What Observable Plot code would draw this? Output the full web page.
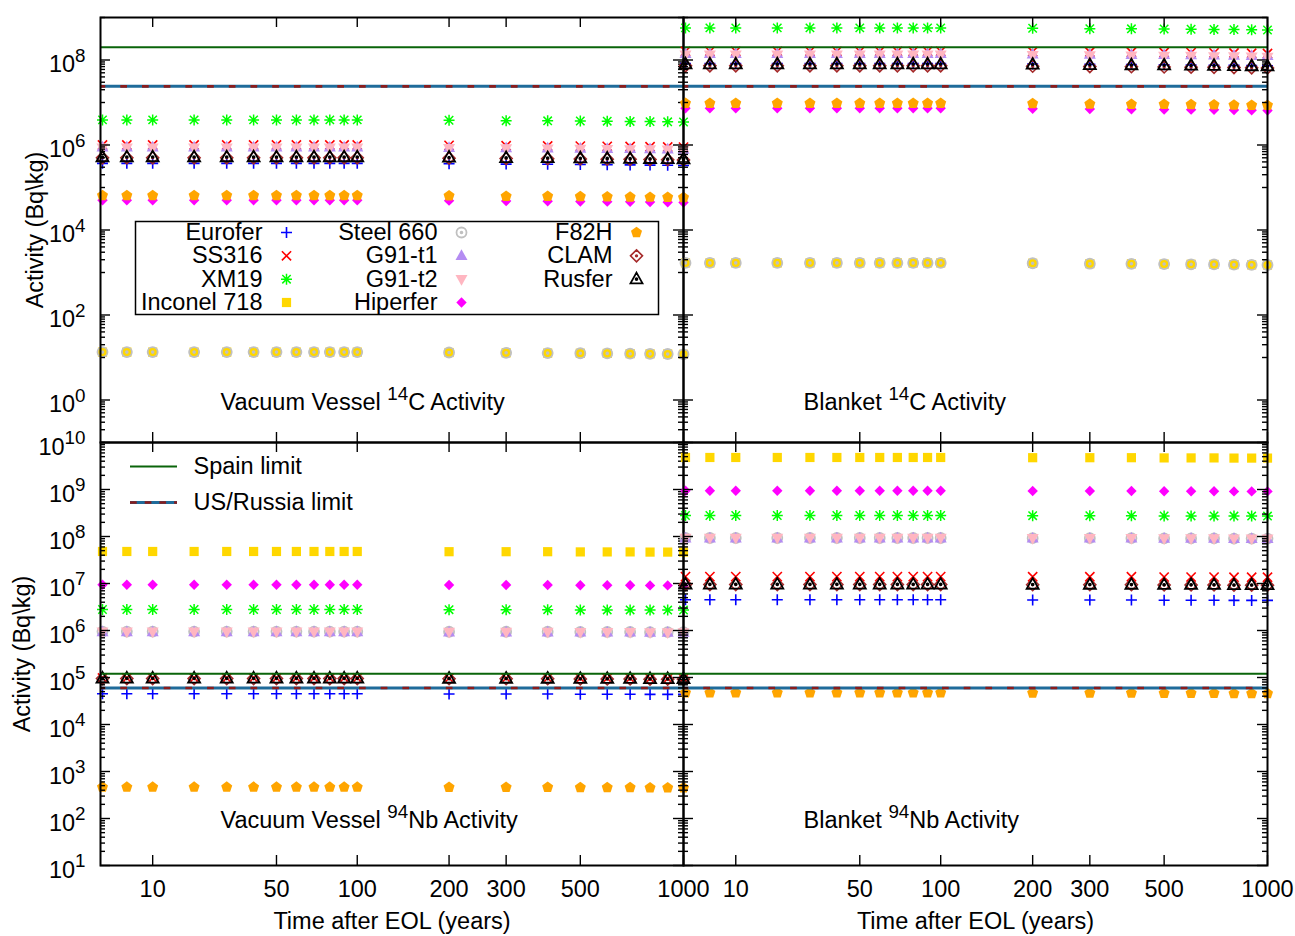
<!DOCTYPE html>
<html><head><meta charset="utf-8">
<script src="https://cdn.jsdelivr.net/npm/d3@7"></script>
<script src="https://cdn.jsdelivr.net/npm/@observablehq/plot@0.6"></script>
<style>
html,body{margin:0;padding:0;background:#fff;}
#chart{position:relative;width:1295px;height:936px;overflow:hidden;background:#fff;}
#chart svg{position:absolute;left:0;top:0;}
</style></head><body><div id="chart"></div>
<script>
// ---------------- data ----------------
const times = [1,5,10,20,30,40,50,60,70,80,90,100,200,300,400,500,600,700,800,900,1000];
const materials = ["Eurofer","SS316","XM19","Inconel 718","Steel 660","G91-t1","G91-t2","Hiperfer","F82H","CLAM","Rusfer"];
const materialColors = ["#0000ff","#ff0000","#00ff00","#ffd700","#c0c0c0","#b48cf2","#ffb6c1","#ff00ff","#ffa500","#a52a2a","#000000"];
const xTicks = [10,50,100,200,300,500,1000];
const yTicksC14 = [1,1e2,1e4,1e6,1e8];
const yTicksNb94 = [1e1,1e2,1e3,1e4,1e5,1e6,1e7,1e8,1e9,1e10];
const limitNames = ["Spain limit","US/Russia limit"];
const limitsC14 = [2.0e8, 2.4e7];
const limitsNb94 = [1.2e5, 6.0e4];
const panelTitles = ["Vacuum Vessel ^14C Activity","Blanket ^14C Activity","Vacuum Vessel ^94Nb Activity","Blanket ^94Nb Activity"];

// rows follow the order of `materials`, columns follow `times`
const vesselC14 = [
  [3.7e5,3.7e5,3.7e5,3.7e5,3.7e5,3.7e5,3.7e5,3.7e5,3.7e5,3.7e5,3.7e5,3.7e5,3.63e5,3.55e5,3.52e5,3.48e5,3.44e5,3.40e5,3.37e5,3.33e5,3.29e5],
  [1.0e6,1.0e6,1.0e6,1.0e6,1.0e6,1.0e6,1.0e6,1.0e6,1.0e6,1.0e6,1.0e6,1.0e6,9.8e5,9.6e5,9.5e5,9.4e5,9.3e5,9.2e5,9.1e5,9.0e5,8.9e5],
  [3.9e6,3.9e6,3.9e6,3.9e6,3.9e6,3.9e6,3.9e6,3.9e6,3.9e6,3.9e6,3.9e6,3.9e6,3.82e6,3.74e6,3.71e6,3.67e6,3.63e6,3.59e6,3.55e6,3.51e6,3.47e6],
  [13.4,13.4,13.4,13.4,13.4,13.4,13.4,13.4,13.4,13.4,13.4,13.4,13.1,12.9,12.7,12.6,12.5,12.3,12.2,12.1,11.9],
  [13.4,13.4,13.4,13.4,13.4,13.4,13.4,13.4,13.4,13.4,13.4,13.4,13.1,12.9,12.7,12.6,12.5,12.3,12.2,12.1,11.9],
  [8.8e5,8.8e5,8.8e5,8.8e5,8.8e5,8.8e5,8.8e5,8.8e5,8.8e5,8.8e5,8.8e5,8.8e5,8.62e5,8.45e5,8.36e5,8.27e5,8.18e5,8.10e5,8.01e5,7.92e5,7.83e5],
  [8.6e5,8.6e5,8.6e5,8.6e5,8.6e5,8.6e5,8.6e5,8.6e5,8.6e5,8.6e5,8.6e5,8.6e5,8.43e5,8.26e5,8.17e5,8.08e5,8.00e5,7.91e5,7.83e5,7.74e5,7.65e5],
  [5.0e4,5.0e4,5.0e4,5.0e4,5.0e4,5.0e4,5.0e4,5.0e4,5.0e4,5.0e4,5.0e4,5.0e4,4.90e4,4.80e4,4.75e4,4.70e4,4.65e4,4.60e4,4.55e4,4.50e4,4.45e4],
  [6.5e4,6.5e4,6.5e4,6.5e4,6.5e4,6.5e4,6.5e4,6.5e4,6.5e4,6.5e4,6.5e4,6.5e4,6.37e4,6.24e4,6.18e4,6.11e4,6.05e4,5.98e4,5.92e4,5.85e4,5.79e4],
  [5.0e5,5.0e5,5.0e5,5.0e5,5.0e5,5.0e5,5.0e5,5.0e5,5.0e5,5.0e5,5.0e5,5.0e5,4.90e5,4.80e5,4.75e5,4.70e5,4.65e5,4.60e5,4.55e5,4.50e5,4.45e5],
  [5.2e5,5.2e5,5.2e5,5.2e5,5.2e5,5.2e5,5.2e5,5.2e5,5.2e5,5.2e5,5.2e5,5.2e5,5.10e5,4.99e5,4.94e5,4.89e5,4.84e5,4.78e5,4.73e5,4.68e5,4.63e5]
];
const blanketC14 = [
  [8.2e7,8.2e7,8.2e7,8.2e7,8.2e7,8.2e7,8.2e7,8.2e7,8.2e7,8.2e7,8.2e7,8.2e7,8.04e7,7.87e7,7.79e7,7.71e7,7.63e7,7.54e7,7.46e7,7.38e7,7.30e7],
  [1.6e8,1.6e8,1.6e8,1.6e8,1.6e8,1.6e8,1.6e8,1.6e8,1.6e8,1.6e8,1.6e8,1.6e8,1.57e8,1.54e8,1.52e8,1.50e8,1.49e8,1.47e8,1.46e8,1.44e8,1.42e8],
  [5.7e8,5.7e8,5.7e8,5.7e8,5.7e8,5.7e8,5.7e8,5.7e8,5.7e8,5.7e8,5.7e8,5.7e8,5.59e8,5.47e8,5.42e8,5.36e8,5.30e8,5.24e8,5.19e8,5.13e8,5.07e8],
  [1680,1680,1680,1680,1680,1680,1680,1680,1680,1680,1680,1680,1650,1610,1600,1580,1560,1550,1530,1510,1500],
  [1680,1680,1680,1680,1680,1680,1680,1680,1680,1680,1680,1680,1650,1610,1600,1580,1560,1550,1530,1510,1500],
  [1.4e8,1.4e8,1.4e8,1.4e8,1.4e8,1.4e8,1.4e8,1.4e8,1.4e8,1.4e8,1.4e8,1.4e8,1.37e8,1.34e8,1.33e8,1.32e8,1.30e8,1.29e8,1.27e8,1.26e8,1.25e8],
  [1.33e8,1.33e8,1.33e8,1.33e8,1.33e8,1.33e8,1.33e8,1.33e8,1.33e8,1.33e8,1.33e8,1.33e8,1.30e8,1.28e8,1.26e8,1.25e8,1.24e8,1.22e8,1.21e8,1.20e8,1.18e8],
  [7.3e6,7.3e6,7.3e6,7.3e6,7.3e6,7.3e6,7.3e6,7.3e6,7.3e6,7.3e6,7.3e6,7.3e6,7.15e6,7.01e6,6.94e6,6.86e6,6.79e6,6.72e6,6.64e6,6.57e6,6.50e6],
  [9.6e6,9.6e6,9.6e6,9.6e6,9.6e6,9.6e6,9.6e6,9.6e6,9.6e6,9.6e6,9.6e6,9.6e6,9.41e6,9.22e6,9.12e6,9.02e6,8.93e6,8.83e6,8.74e6,8.64e6,8.54e6],
  [7.3e7,7.3e7,7.3e7,7.3e7,7.3e7,7.3e7,7.3e7,7.3e7,7.3e7,7.3e7,7.3e7,7.3e7,7.15e7,7.01e7,6.94e7,6.86e7,6.79e7,6.72e7,6.64e7,6.57e7,6.50e7],
  [8.0e7,8.0e7,8.0e7,8.0e7,8.0e7,8.0e7,8.0e7,8.0e7,8.0e7,8.0e7,8.0e7,8.0e7,7.84e7,7.68e7,7.60e7,7.52e7,7.44e7,7.36e7,7.28e7,7.20e7,7.12e7]
];
const vesselNb94 = [
  [4.5e4,4.5e4,4.5e4,4.5e4,4.5e4,4.5e4,4.5e4,4.5e4,4.5e4,4.5e4,4.5e4,4.5e4,4.46e4,4.46e4,4.46e4,4.41e4,4.41e4,4.41e4,4.37e4,4.37e4,4.37e4],
  [9.8e4,9.8e4,9.8e4,9.8e4,9.8e4,9.8e4,9.8e4,9.8e4,9.8e4,9.8e4,9.8e4,9.8e4,9.70e4,9.70e4,9.70e4,9.60e4,9.60e4,9.60e4,9.51e4,9.51e4,9.51e4],
  [2.8e6,2.8e6,2.8e6,2.8e6,2.8e6,2.8e6,2.8e6,2.8e6,2.8e6,2.8e6,2.8e6,2.8e6,2.77e6,2.77e6,2.77e6,2.74e6,2.74e6,2.74e6,2.72e6,2.72e6,2.72e6],
  [4.8e7,4.8e7,4.8e7,4.8e7,4.8e7,4.8e7,4.8e7,4.8e7,4.8e7,4.8e7,4.8e7,4.8e7,4.75e7,4.75e7,4.75e7,4.70e7,4.70e7,4.70e7,4.66e7,4.66e7,4.66e7],
  [9.5e5,9.5e5,9.5e5,9.5e5,9.5e5,9.5e5,9.5e5,9.5e5,9.5e5,9.5e5,9.5e5,9.5e5,9.41e5,9.41e5,9.41e5,9.31e5,9.31e5,9.31e5,9.22e5,9.22e5,9.22e5],
  [9.3e5,9.3e5,9.3e5,9.3e5,9.3e5,9.3e5,9.3e5,9.3e5,9.3e5,9.3e5,9.3e5,9.3e5,9.21e5,9.21e5,9.21e5,9.11e5,9.11e5,9.11e5,9.02e5,9.02e5,9.02e5],
  [9.4e5,9.4e5,9.4e5,9.4e5,9.4e5,9.4e5,9.4e5,9.4e5,9.4e5,9.4e5,9.4e5,9.4e5,9.31e5,9.31e5,9.31e5,9.21e5,9.21e5,9.21e5,9.12e5,9.12e5,9.12e5],
  [9.4e6,9.4e6,9.4e6,9.4e6,9.4e6,9.4e6,9.4e6,9.4e6,9.4e6,9.4e6,9.4e6,9.4e6,9.31e6,9.31e6,9.31e6,9.21e6,9.21e6,9.21e6,9.12e6,9.12e6,9.12e6],
  [464,464,464,464,464,464,464,464,464,464,464,464,459,459,459,455,455,455,450,450,450],
  [9.5e4,9.5e4,9.5e4,9.5e4,9.5e4,9.5e4,9.5e4,9.5e4,9.5e4,9.5e4,9.5e4,9.5e4,9.41e4,9.41e4,9.41e4,9.31e4,9.31e4,9.31e4,9.22e4,9.22e4,9.22e4],
  [9.6e4,9.6e4,9.6e4,9.6e4,9.6e4,9.6e4,9.6e4,9.6e4,9.6e4,9.6e4,9.6e4,9.6e4,9.50e4,9.50e4,9.50e4,9.41e4,9.41e4,9.41e4,9.31e4,9.31e4,9.31e4]
];
const blanketNb94 = [
  [4.5e6,4.5e6,4.5e6,4.5e6,4.5e6,4.5e6,4.5e6,4.5e6,4.5e6,4.5e6,4.5e6,4.5e6,4.46e6,4.46e6,4.46e6,4.41e6,4.41e6,4.41e6,4.37e6,4.37e6,4.37e6],
  [1.4e7,1.4e7,1.4e7,1.4e7,1.4e7,1.4e7,1.4e7,1.4e7,1.4e7,1.4e7,1.4e7,1.4e7,1.39e7,1.39e7,1.39e7,1.37e7,1.37e7,1.37e7,1.36e7,1.36e7,1.36e7],
  [2.8e8,2.8e8,2.8e8,2.8e8,2.8e8,2.8e8,2.8e8,2.8e8,2.8e8,2.8e8,2.8e8,2.8e8,2.77e8,2.77e8,2.77e8,2.74e8,2.74e8,2.74e8,2.72e8,2.72e8,2.72e8],
  [4.8e9,4.8e9,4.8e9,4.8e9,4.8e9,4.8e9,4.8e9,4.8e9,4.8e9,4.8e9,4.8e9,4.8e9,4.75e9,4.75e9,4.75e9,4.70e9,4.70e9,4.70e9,4.66e9,4.66e9,4.66e9],
  [9.3e7,9.3e7,9.3e7,9.3e7,9.3e7,9.3e7,9.3e7,9.3e7,9.3e7,9.3e7,9.3e7,9.3e7,9.21e7,9.21e7,9.21e7,9.11e7,9.11e7,9.11e7,9.02e7,9.02e7,9.02e7],
  [9.2e7,9.2e7,9.2e7,9.2e7,9.2e7,9.2e7,9.2e7,9.2e7,9.2e7,9.2e7,9.2e7,9.2e7,9.11e7,9.11e7,9.11e7,9.02e7,9.02e7,9.02e7,8.92e7,8.92e7,8.92e7],
  [9.3e7,9.3e7,9.3e7,9.3e7,9.3e7,9.3e7,9.3e7,9.3e7,9.3e7,9.3e7,9.3e7,9.3e7,9.21e7,9.21e7,9.21e7,9.11e7,9.11e7,9.11e7,9.02e7,9.02e7,9.02e7],
  [9.4e8,9.4e8,9.4e8,9.4e8,9.4e8,9.4e8,9.4e8,9.4e8,9.4e8,9.4e8,9.4e8,9.4e8,9.31e8,9.31e8,9.31e8,9.21e8,9.21e8,9.21e8,9.12e8,9.12e8,9.12e8],
  [4.7e4,4.7e4,4.7e4,4.7e4,4.7e4,4.7e4,4.7e4,4.7e4,4.7e4,4.7e4,4.7e4,4.7e4,4.65e4,4.65e4,4.65e4,4.61e4,4.61e4,4.61e4,4.56e4,4.56e4,4.56e4],
  [9.5e6,9.5e6,9.5e6,9.5e6,9.5e6,9.5e6,9.5e6,9.5e6,9.5e6,9.5e6,9.5e6,9.5e6,9.41e6,9.41e6,9.41e6,9.31e6,9.31e6,9.31e6,9.22e6,9.22e6,9.22e6],
  [9.6e6,9.6e6,9.6e6,9.6e6,9.6e6,9.6e6,9.6e6,9.6e6,9.6e6,9.6e6,9.6e6,9.6e6,9.50e6,9.50e6,9.50e6,9.41e6,9.41e6,9.41e6,9.31e6,9.31e6,9.31e6]
];

// ---------------- styling ----------------
const NS = "http://www.w3.org/2000/svg";
const W = 1295, H = 936;
const FONT = '"Liberation Sans", Arial, sans-serif';
const FS = 23.5;
const COLX = [100, 683, 1267];
const ROWY = [17, 442, 865];
const SPAIN = "#0a640a", US_BLUE = "#1f6b9a", RUS_RED = "#8b1c1c";

function sym(fn) { return {draw(ctx, size) { const s = Math.sqrt(size / Math.PI) / 5; fn(ctx, s); }}; }
const centerDot = (c, s) => { c.moveTo(0.9 * s, 0); c.arc(0, 0, 0.9 * s, 0, 2 * Math.PI); };
const plusPath = (c, a) => { c.moveTo(-a, 0); c.lineTo(a, 0); c.moveTo(0, -a); c.lineTo(0, a); };
const timesPath = (c, a) => { c.moveTo(-a, -a); c.lineTo(a, a); c.moveTo(-a, a); c.lineTo(a, -a); };
const triUpPath = (c, s) => { c.moveTo(0, -6.5 * s); c.lineTo(6 * s, 4.2 * s); c.lineTo(-6 * s, 4.2 * s); c.closePath(); };
const diamondPath = (c, s, k) => { c.moveTo(0, -k * s); c.lineTo(k * s, 0); c.lineTo(0, k * s); c.lineTo(-k * s, 0); c.closePath(); };
const symbols = [
  sym((c, s) => plusPath(c, 5.5 * s)),
  sym((c, s) => timesPath(c, 4.6 * s)),
  sym((c, s) => { plusPath(c, 5.5 * s); timesPath(c, 4.2 * s); }),
  sym((c, s) => { c.rect(-4.6 * s, -4.6 * s, 9.2 * s, 9.2 * s); }),
  sym((c, s) => { c.moveTo(5 * s, 0); c.arc(0, 0, 5 * s, 0, 2 * Math.PI); centerDot(c, s); }),
  sym((c, s) => triUpPath(c, s)),
  sym((c, s) => { c.moveTo(0, 6.5 * s); c.lineTo(6 * s, -4.2 * s); c.lineTo(-6 * s, -4.2 * s); c.closePath(); }),
  sym((c, s) => diamondPath(c, s, 5.2)),
  sym((c, s) => { for (let k = 0; k < 5; k++) { const a = -Math.PI / 2 + k * 2 * Math.PI / 5; const x = 5.8 * s * Math.cos(a), y = 5.8 * s * Math.sin(a); if (k) c.lineTo(x, y); else c.moveTo(x, y); } c.closePath(); }),
  sym((c, s) => { diamondPath(c, s, 6); centerDot(c, s); }),
  sym((c, s) => { triUpPath(c, s); centerDot(c, s); })
];
const filled = [false,false,false,true,false,true,true,true,true,false,false];
const strokeW = [1.6,1.6,1.5,0,1.8,0,0,0,0,1.6,1.8];

function seriesMark(i, data) {
  const f = filled[i];
  return Plot.dot(data, {x: "t", y: "v", r: 5, symbol: symbols[i],
    fill: f ? materialColors[i] : "none", stroke: f ? "none" : materialColors[i], strokeWidth: strokeW[i]});
}

function minorTicks(domain, majors, everyOther) {
  const out = [];
  const lo = Math.floor(Math.log10(domain[0])), hi = Math.ceil(Math.log10(domain[1]));
  for (let e = lo; e <= hi; e++) {
    if (everyOther && (e % 2 === 0)) continue;
    for (let j = everyOther ? 1 : 2; j <= 9; j++) {
      const v = j * Math.pow(10, e);
      if (v >= domain[0] * 0.999 && v <= domain[1] * 1.001 && !majors.includes(v)) out.push(v);
    }
  }
  return out;
}

const baseStyle = {background: "transparent", fontFamily: FONT, fontSize: FS + "px", color: "black", overflow: "visible"};

function panel(opt) {
  const {values, yDomain, yTicks, everyOther, col, row, title, limits, showY, showX, yLabelDx, titleDy} = opt;
  const left = COLX[col], right = COLX[col + 1], top = ROWY[row], bottom = ROWY[row + 1];
  const fw = right - left, fh = bottom - top;
  const minor = minorTicks(yDomain, yTicks, everyOther);
  const marks = [];
  materials.forEach((m, i) => {
    const data = times.map((t, j) => ({t, v: values[i][j]}));
    marks.push(seriesMark(i, data));
  });
  marks.push(Plot.ruleY([limits[0]], {y: d => d, stroke: SPAIN, strokeWidth: 2}));
  marks.push(Plot.ruleY([limits[1]], {y: d => d, stroke: US_BLUE, strokeWidth: 3}));
  marks.push(Plot.ruleY([limits[1]], {y: d => d, stroke: RUS_RED, strokeWidth: 2.6, strokeDasharray: "6.7,15", strokeDashoffset: 1.4}));
  const tickStyle = {stroke: "black", strokeWidth: 1.4};
  marks.push(Plot.tickY(yTicks, {y: d => d, insetRight: fw - 10, ...tickStyle}));
  marks.push(Plot.tickY(yTicks, {y: d => d, insetLeft: fw - 10, ...tickStyle}));
  marks.push(Plot.tickY(minor, {y: d => d, insetRight: fw - 5, ...tickStyle}));
  marks.push(Plot.tickY(minor, {y: d => d, insetLeft: fw - 5, ...tickStyle}));
  marks.push(Plot.tickX(xTicks, {x: d => d, insetTop: fh - 10, ...tickStyle}));
  marks.push(Plot.tickX(xTicks, {x: d => d, insetBottom: fh - 10, ...tickStyle}));
  marks.push(Plot.frame({stroke: "black", strokeWidth: 2}));
  marks.push(Plot.text([title], {frameAnchor: "bottom-left", dx: 120, dy: titleDy, textAnchor: "start", lineAnchor: "middle", text: d => d}));
  if (showY) marks.push(Plot.text(["Activity (Bq\\kg)"], {frameAnchor: "left", rotate: -90, dx: yLabelDx, textAnchor: "middle", lineAnchor: "middle", text: d => d}));
  if (showX) marks.push(Plot.text(["Time after EOL (years)"], {frameAnchor: "bottom", dy: 56, textAnchor: "middle", lineAnchor: "middle", text: d => d}));
  return Plot.plot({
    width: W, height: H,
    marginLeft: left, marginRight: W - right, marginTop: top, marginBottom: H - bottom,
    style: baseStyle,
    x: {type: "symlog", constant: 22.3, domain: [0.7, 1000], ticks: xTicks, tickFormat: d => String(d),
        tickSize: 0, tickPadding: 15, label: null, axis: showX ? "bottom" : null},
    y: {type: "log", domain: yDomain, ticks: yTicks, tickFormat: d => "10^" + Math.round(Math.log10(d)),
        tickSize: 0, tickPadding: 15, label: null, axis: showY ? "left" : null},
    marks
  });
}

const chart = document.getElementById("chart");
const panels = [
  panel({values: vesselC14, yDomain: [0.1, 1e9], yTicks: yTicksC14, everyOther: true, col: 0, row: 0, title: panelTitles[0], limits: limitsC14, showY: true, showX: false, yLabelDx: -65, titleDy: -40}),
  panel({values: blanketC14, yDomain: [0.1, 1e9], yTicks: yTicksC14, everyOther: true, col: 1, row: 0, title: panelTitles[1], limits: limitsC14, showY: false, showX: false, yLabelDx: 0, titleDy: -40}),
  panel({values: vesselNb94, yDomain: [10, 1e10], yTicks: yTicksNb94, everyOther: false, col: 0, row: 1, title: panelTitles[2], limits: limitsNb94, showY: true, showX: true, yLabelDx: -78, titleDy: -45}),
  panel({values: blanketNb94, yDomain: [10, 1e10], yTicks: yTicksNb94, everyOther: false, col: 1, row: 1, title: panelTitles[3], limits: limitsNb94, showY: false, showX: true, yLabelDx: 0, titleDy: -45})
];
panels.forEach(p => chart.appendChild(p));

// material legend (top-left panel)
const legendMarks = [Plot.frame({stroke: "black", strokeWidth: 1.5})];
materials.forEach((m, i) => {
  legendMarks.push(Plot.dot([i], {x: d => Math.floor(d / 4), y: d => d % 4, r: 5, symbol: symbols[i],
    fill: filled[i] ? materialColors[i] : "none", stroke: filled[i] ? "none" : materialColors[i], strokeWidth: strokeW[i]}));
});
legendMarks.push(Plot.text(materials, {x: (d, i) => Math.floor(i / 4), y: (d, i) => i % 4, text: d => d, textAnchor: "end", lineAnchor: "middle", dx: -24}));
chart.appendChild(Plot.plot({
  width: W, height: H, marginLeft: 135, marginRight: W - 658, marginTop: 221, marginBottom: H - 314,
  style: baseStyle,
  x: {domain: [0, 2], range: [286, 636], axis: null},
  y: {domain: [0, 3], range: [232, 302], axis: null},
  marks: legendMarks
}));

// limit legend (bottom-left panel)
chart.appendChild(Plot.plot({
  width: W, height: H, marginLeft: 130, marginRight: W - 177, marginTop: 466, marginBottom: H - 502,
  style: baseStyle,
  x: {domain: [0, 1], range: [130, 177], axis: null},
  y: {domain: [0, 1], range: [466, 502], axis: null},
  marks: [
    Plot.ruleY([0], {y: d => d, x1: 0, x2: 1, stroke: SPAIN, strokeWidth: 2}),
    Plot.ruleY([1], {y: d => d, x1: 0, x2: 1, stroke: US_BLUE, strokeWidth: 3}),
    Plot.ruleY([1], {y: d => d, x1: 0, x2: 1, stroke: RUS_RED, strokeWidth: 2.6, strokeDasharray: "6.7,8"}),
    Plot.text(limitNames, {x: 1, y: (d, i) => i, dx: 16, textAnchor: "start", lineAnchor: "middle", text: d => d})
  ]
}));

// superscripts: "a^14b" -> a<tspan sup>14</tspan>b
chart.querySelectorAll("svg").forEach(svg => {
  svg.querySelectorAll('[aria-label^="y-axis"] text').forEach(t => t.setAttribute("dy", "4.5"));
  svg.querySelectorAll("text").forEach(t => {
    const m = t.textContent.match(/^(.*?)\^(\d+)(.*)$/);
    if (!m) return;
    const fs = parseFloat(getComputedStyle(t).fontSize) || FS;
    while (t.firstChild) t.removeChild(t.firstChild);
    t.appendChild(document.createTextNode(m[1]));
    const sup = document.createElementNS(NS, "tspan");
    sup.setAttribute("dy", String(-0.43 * fs));
    sup.setAttribute("font-size", String(0.8 * fs));
    sup.textContent = m[2];
    t.appendChild(sup);
    if (m[3]) {
      const rest = document.createElementNS(NS, "tspan");
      rest.setAttribute("dy", String(0.43 * fs));
      rest.textContent = m[3];
      t.appendChild(rest);
    }
  });
});
</script></body></html>
